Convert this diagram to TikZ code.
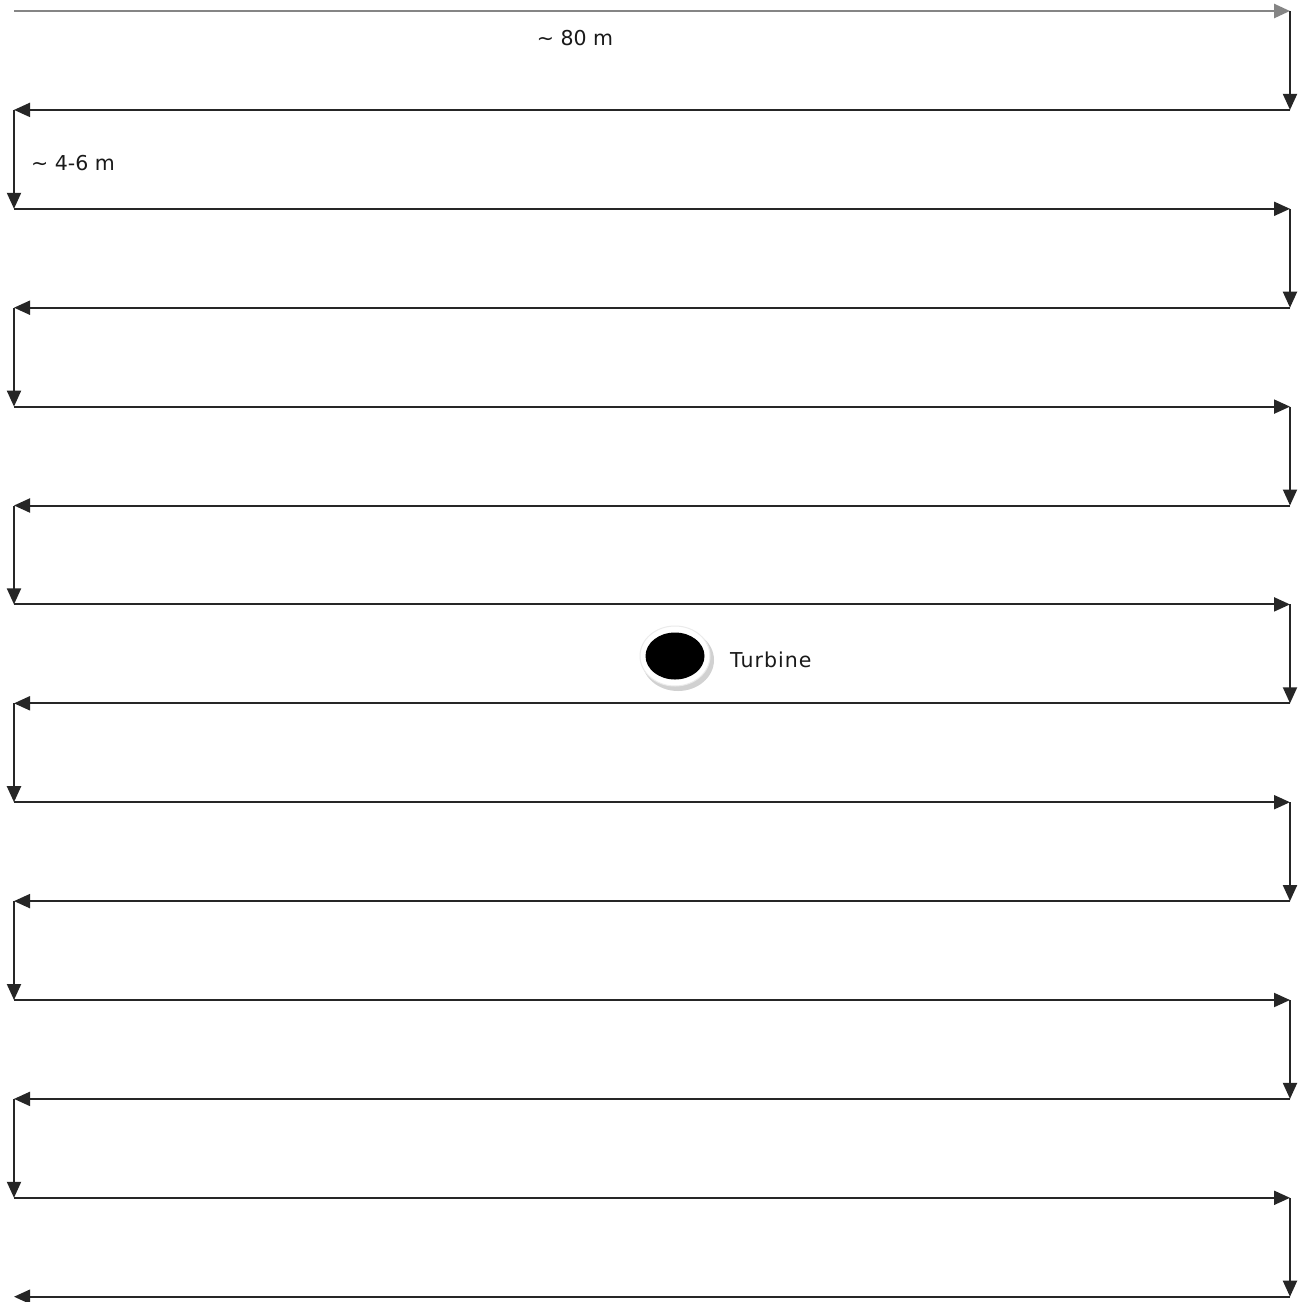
\documentclass[tikz,border=0pt]{standalone}
\usepackage{fontspec}
\setmainfont{DejaVu Sans}
\usetikzlibrary{arrows.meta,shapes.geometric}
\begin{document}
\begin{tikzpicture}[x=1pt,y=-1pt,
  pathline/.style={draw=black!85,line width=2pt,-{Triangle[length=16pt,width=14pt]}},
  firstline/.style={pathline,draw=black!48,line width=2.6pt},
  lbl/.style={font=\fontsize{20.5}{24}\selectfont,text=black!90,inner sep=0pt}]
\useasboundingbox[fill=white] (0,0) rectangle (1302,1302);
% corner coordinates
\foreach \k in {0,...,13}{
  \pgfmathsetmacro{\yy}{11+98.9*\k}
  \coordinate (L\k) at (14,\yy);
  \coordinate (R\k) at (1290,\yy);
}
% first (grey) line
\draw[firstline] (L0) -- (R0);
% serpentine path
\foreach \k [evaluate=\k as \n using int(\k+1)] in {0,2,...,12}{
  \draw[pathline] (R\k) -- (R\n);
  \draw[pathline] (R\n) -- (L\n);
}
\foreach \k [evaluate=\k as \n using int(\k+1)] in {1,3,...,11}{
  \draw[pathline] (L\k) -- (L\n);
  \draw[pathline] (L\n) -- (R\n);
}
% labels
\node[lbl] (len) at (575,38) {\textasciitilde\ 80 m};
\node[lbl,anchor=west] (wid) at (31,163) {\textasciitilde\ 4-6 m};
% turbine
\fill[black!18] (678,660) ellipse [x radius=36pt,y radius=31pt];
\filldraw[fill=white,draw=black!8,line width=1pt] (675,656) ellipse [x radius=35pt,y radius=30pt];
\node[ellipse,fill=black,minimum width=59pt,minimum height=47pt,inner sep=0pt] (turb) at (675,656) {};
\node[lbl,anchor=west] (turblbl) at (730,660) {\addfontfeature{LetterSpace=5}Turbine};
\end{tikzpicture}
\end{document}
